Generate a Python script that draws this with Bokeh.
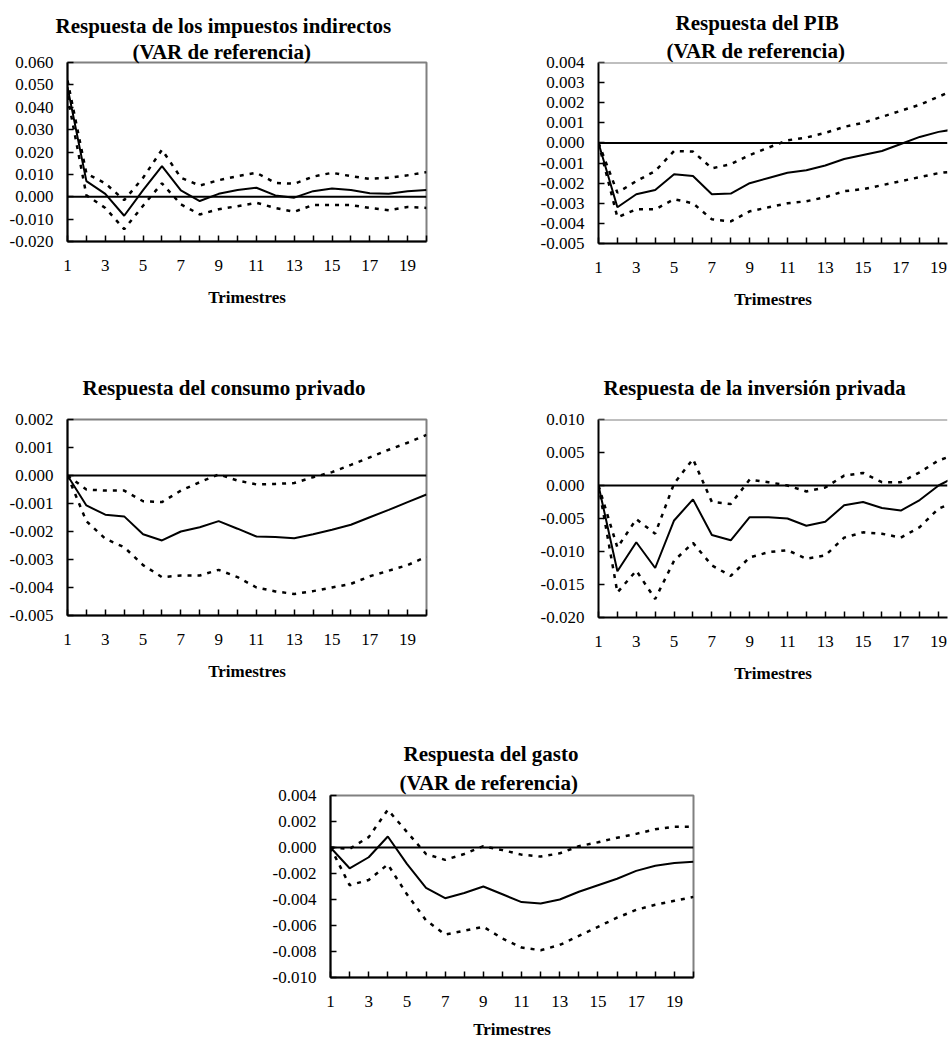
from bokeh.plotting import figure
from bokeh.models import Span, FixedTicker, Range1d, PrintfTickFormatter, Title
from bokeh.layouts import column, row
from bokeh.embed import file_html
from bokeh.resources import INLINE

# ---------------- data ----------------
periods = list(range(1, 21))
x_tick_text = {i: (str(i) if i % 2 == 1 else "") for i in periods}
x_title = "Trimestres"

# Respuesta de los impuestos indirectos
imp_ticks = [-0.020, -0.010, 0.000, 0.010, 0.020, 0.030, 0.040, 0.050, 0.060]
imp_resp = [0.049, 0.007, 0.0013, -0.0085, 0.003, 0.0137, 0.0028, -0.0019, 0.0013, 0.003,
            0.004, 0.0006, -0.0004, 0.0025, 0.0037, 0.003, 0.0016, 0.0013, 0.0025, 0.003]
imp_up = [0.052, 0.0104, 0.006, -0.0015, 0.0085, 0.021, 0.0085, 0.005, 0.0074, 0.0092,
          0.0107, 0.0062, 0.0058, 0.009, 0.0107, 0.0092, 0.008, 0.0085, 0.0096, 0.011]
imp_lo = [0.045, 0.0007, -0.005, -0.0145, -0.004, 0.006, -0.0034, -0.0079, -0.0056, -0.0042,
          -0.0027, -0.005, -0.0067, -0.0037, -0.0037, -0.0037, -0.005, -0.006, -0.0046, -0.005]

# Respuesta del PIB
pib_ticks = [-0.005, -0.004, -0.003, -0.002, -0.001, 0.000, 0.001, 0.002, 0.003, 0.004]
pib_resp = [0.0, -0.0032, -0.00255, -0.00234, -0.00156, -0.00164, -0.00255, -0.00252, -0.002, -0.00174,
            -0.00148, -0.00136, -0.00112, -0.0008, -0.0006, -0.0004, -0.00005, 0.0003, 0.00055, 0.0007]
pib_up = [0.0, -0.00247, -0.0019, -0.0014, -0.0004, -0.00043, -0.00126, -0.00106, -0.0006, -0.00023,
          0.00013, 0.00027, 0.0005, 0.0008, 0.001, 0.0013, 0.0016, 0.0019, 0.0023, 0.0027]
pib_lo = [0.0, -0.0037, -0.0033, -0.0033, -0.0028, -0.003, -0.0038, -0.0039, -0.0034, -0.0032,
          -0.003, -0.0029, -0.0027, -0.0024, -0.0023, -0.0021, -0.0019, -0.0017, -0.0015, -0.0014]

# Respuesta del consumo privado
con_ticks = [-0.005, -0.004, -0.003, -0.002, -0.001, 0.000, 0.001, 0.002]
con_resp = [0.0, -0.00107, -0.0014, -0.00146, -0.0021, -0.00232, -0.002, -0.00185, -0.00163, -0.0019,
            -0.00218, -0.0022, -0.00224, -0.0021, -0.00194, -0.00176, -0.00149, -0.00123, -0.00095, -0.00068]
con_up = [0.0, -0.0005, -0.00054, -0.00054, -0.00092, -0.00095, -0.00054, -0.00024, 0.00004, -0.00018,
          -0.00032, -0.0003, -0.00027, -0.00006, 0.00012, 0.00038, 0.00065, 0.00092, 0.00117, 0.00145]
con_lo = [0.0, -0.00163, -0.00226, -0.00256, -0.0032, -0.00363, -0.00357, -0.00357, -0.00337, -0.00363,
          -0.004, -0.00414, -0.00423, -0.00413, -0.004, -0.00387, -0.0036, -0.0034, -0.0032, -0.0029]

# Respuesta de la inversión privada
inv_ticks = [-0.020, -0.015, -0.010, -0.005, 0.000, 0.005, 0.010]
inv_resp = [0.0, -0.013, -0.0086, -0.0125, -0.0053, -0.0021, -0.0075, -0.0083, -0.0048, -0.0048,
            -0.005, -0.0061, -0.0055, -0.003, -0.0025, -0.0034, -0.0038, -0.0022, 0.0, 0.0015]
inv_up = [0.0, -0.0094, -0.0051, -0.0073, 0.0003, 0.004, -0.0025, -0.0028, 0.0009, 0.0005,
          0.0, -0.0009, -0.0003, 0.0015, 0.0019, 0.0005, 0.0005, 0.002, 0.0038, 0.0048]
inv_lo = [0.0, -0.0162, -0.0129, -0.0172, -0.0114, -0.0087, -0.0121, -0.0137, -0.0109, -0.0101,
          -0.0098, -0.0111, -0.0106, -0.0079, -0.0071, -0.0073, -0.0079, -0.0063, -0.0035, -0.0023]

# Respuesta del gasto
gas_ticks = [-0.010, -0.008, -0.006, -0.004, -0.002, 0.000, 0.002, 0.004]
gas_resp = [0.0, -0.0016, -0.00075, 0.00085, -0.00126, -0.0031, -0.0039, -0.0035, -0.003, -0.0036,
            -0.0042, -0.0043, -0.004, -0.0034, -0.0029, -0.0024, -0.0018, -0.0014, -0.0012, -0.0011]
gas_up = [0.0, -0.0001, 0.0008, 0.0029, 0.0012, -0.0005, -0.00095, -0.0005, 0.0001, -0.0002,
          -0.00055, -0.0007, -0.00045, 0.0001, 0.0004, 0.00075, 0.00105, 0.0014, 0.0016, 0.0016]
gas_lo = [0.0, -0.0029, -0.0025, -0.0013, -0.0036, -0.0056, -0.0067, -0.0064, -0.0061, -0.007,
          -0.0077, -0.0079, -0.0075, -0.0068, -0.0061, -0.0054, -0.0048, -0.0044, -0.0041, -0.0038]

FONT = "Liberation Serif"


def panel(titles, offsets, standoffs, y_ticks, resp, up, lo, fw, fh, mb, x_end,
          label_standoff=14, cut=False):
    p = figure(frame_width=fw, frame_height=fh,
               min_border_left=mb[0], min_border_right=mb[1],
               min_border_top=mb[2], min_border_bottom=mb[3],
               x_range=Range1d(1, x_end), y_range=Range1d(y_ticks[0], y_ticks[-1]),
               output_backend="svg", toolbar_location=None)
    p.xgrid.visible = False
    p.ygrid.visible = False
    p.outline_line_color = None if cut else "#808080"
    p.outline_line_width = 2
    p.outline_line_alpha = 1

    xa = p.xaxis[0]
    xa.ticker = FixedTicker(ticks=periods)
    xa.major_label_overrides = x_tick_text
    ya = p.yaxis[0]
    ya.ticker = FixedTicker(ticks=y_ticks)
    ya.formatter = PrintfTickFormatter(format="%.3f")
    for ax in (xa, ya):
        ax.axis_line_color = "black"
        ax.axis_line_width = 2
        ax.major_tick_in = 6
        ax.major_tick_out = 0
        ax.major_tick_line_color = "black"
        ax.major_tick_line_width = 1.5
        ax.minor_tick_line_color = None
        ax.major_label_text_font = FONT
        ax.major_label_text_font_size = "17px"
        ax.major_label_text_color = "black"
    xa.major_label_standoff = 18
    ya.major_label_standoff = 14
    xa.axis_label = x_title
    xa.axis_label_text_font = FONT
    xa.axis_label_text_font_size = "17px"
    xa.axis_label_text_font_style = "bold"
    xa.axis_label_text_color = "black"
    xa.axis_label_standoff = label_standoff

    if cut:
        p.add_layout(Span(location=y_ticks[-1], dimension="width",
                          line_color="#808080", line_width=2))
    p.add_layout(Span(location=0, dimension="width", line_color="black", line_width=2))

    p.line(periods, up, line_color="black", line_width=2.5, line_dash="4 6")
    p.line(periods, lo, line_color="black", line_width=2.5, line_dash="4 6")
    p.line(periods, resp, line_color="black", line_width=2)

    # titles: the one added first sits closest to the frame
    for t, off, st in reversed(list(zip(titles, offsets, standoffs))):
        p.add_layout(Title(text=t, align="left", offset=off, standoff=st,
                           text_font=FONT, text_font_size="21px", text_font_style="bold",
                           text_color="black"), "above")
    return p


p1 = panel(["Respuesta de los impuestos indirectos", "(VAR de referencia)"], [-12, 65], [4, -3],
           imp_ticks, imp_resp, imp_up, imp_lo, 359, 179, (67, 110, 61, 78), 20)
p2 = panel(["Respuesta del PIB", "(VAR de referencia)"], [77, 68], [4, 0],
           pib_ticks, pib_resp, pib_up, pib_lo, 349, 181, (62, 3, 62, 75), 19.47, cut=True)
p3 = panel(["Respuesta del consumo privado"], [15], [40],
           con_ticks, con_resp, con_up, con_lo, 359, 196, (67, 110, 101, 85), 20)
p4 = panel(["Respuesta de la inversión privada"], [5], [40],
           inv_ticks, inv_resp, inv_up, inv_lo, 349, 198, (62, 3, 101, 83), 19.47, cut=True)
p5 = panel(["Respuesta del gasto", "(VAR de referencia)"], [73, 69], [4, 2],
           gas_ticks, gas_resp, gas_up, gas_lo, 363, 182, (330, 10, 95, 61), 20,
           label_standoff=10)

layout = column(row(p1, p2, spacing=0), row(p3, p4, spacing=0), p5, spacing=0)

with open("out.html", "w") as f:
    f.write(file_html(layout, INLINE))
